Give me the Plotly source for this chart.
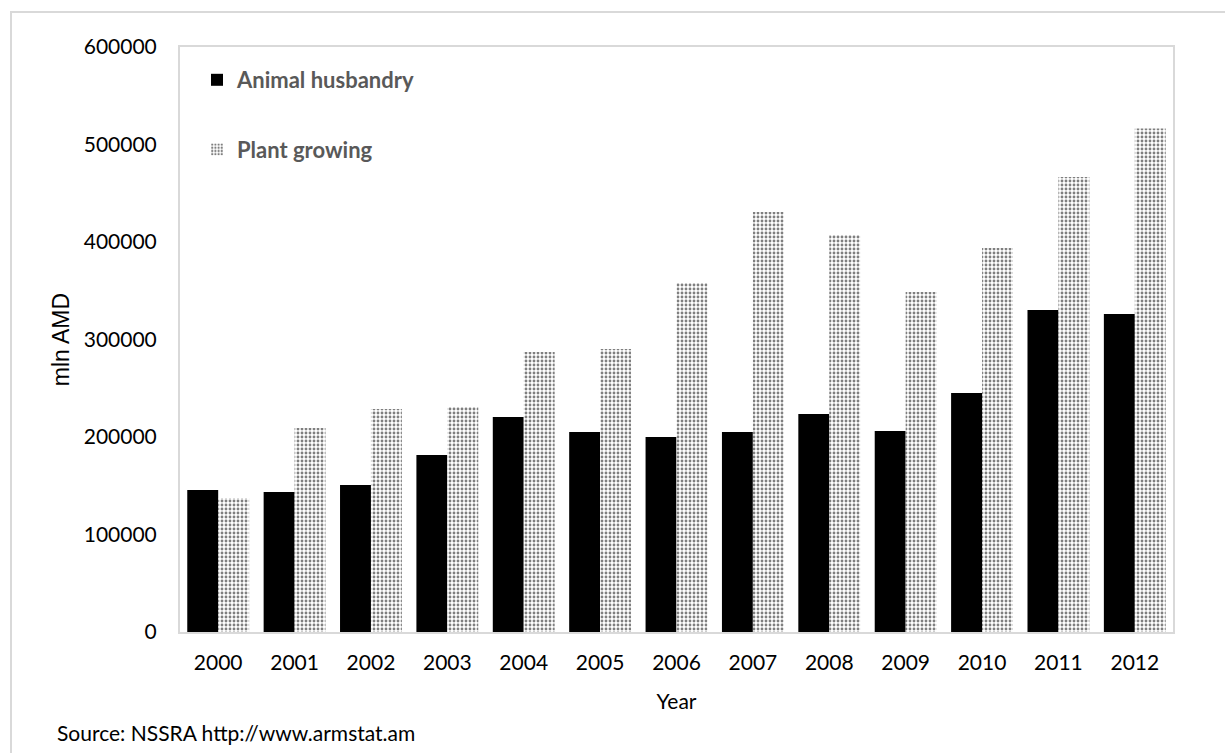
import plotly.graph_objects as go

years = ["2000", "2001", "2002", "2003", "2004", "2005", "2006",
         "2007", "2008", "2009", "2010", "2011", "2012"]
animal_husbandry = [145600, 143600, 150800, 181500, 220500, 205100, 200000,
                    205100, 223600, 206200, 245100, 330300, 326200]
plant_growing = [137400, 209200, 228700, 230800, 287200, 290300, 357900,
                 430800, 407200, 348700, 393800, 466700, 516500]
y_ticks = [0, 100000, 200000, 300000, 400000, 500000, 600000]

W, H = 1225, 753
L, R, T, B = 180, 52, 47, 121
pw, ph = W - L - R, H - T - B

def px_x(x):
    return (x - L) / pw

def px_y(y):
    return (H - B - y) / ph

fig = go.Figure()
fig.add_trace(go.Bar(
    x=years, y=animal_husbandry, name="Animal husbandry",
    marker=dict(color="black", line=dict(width=0)),
    legendgroup="a",
))
fig.add_trace(go.Bar(
    x=years, y=plant_growing, name="Plant growing",
    marker=dict(color="white", line=dict(width=0),
                pattern=dict(shape=".", fgcolor="black", bgcolor="white",
                             size=4, solidity=0.4, fillmode="overlay")),
    legendgroup="b",
))

axis_font = dict(family="Lato, 'Open Sans', sans-serif", size=21, color="black")

fig.update_layout(
    width=W, height=H,
    margin=dict(l=L, r=R, t=T, b=B),
    paper_bgcolor="white", plot_bgcolor="white",
    barmode="group", bargap=0.19, bargroupgap=0,
    showlegend=True,
    legend=dict(
        x=px_x(197), y=px_y(59), xanchor="left", yanchor="top",
        bgcolor="rgba(0,0,0,0)", borderwidth=0,
        font=dict(family="Lato, 'Open Sans', sans-serif", size=22,
                  color="#595959", weight="bold"),
        tracegroupgap=38, traceorder="grouped", itemwidth=30,
    ),
    xaxis=dict(
        showgrid=False, showline=True, mirror=True,
        linecolor="#d9d9d9", linewidth=2,
        ticks="", tickfont=axis_font, ticklabelstandoff=11,
        title=dict(text="Year", font=axis_font, standoff=21),
    ),
    yaxis=dict(
        range=[0, 600000], tickvals=y_ticks,
        ticktext=[str(v) for v in y_ticks],
        showgrid=False, zeroline=False, showline=True, mirror=True,
        linecolor="#d9d9d9", linewidth=2,
        ticks="", tickfont=axis_font, ticklabelstandoff=17,
        title=dict(text="mln AMD",
                   font=dict(family="'Liberation Sans', Arial, sans-serif",
                             size=23, color="black"),
                   standoff=8),
    ),
    shapes=[dict(
        type="rect", xref="paper", yref="paper",
        x0=px_x(11), y0=px_y(H + 20), x1=px_x(W + 20), y1=px_y(12),
        line=dict(color="#d9d9d9", width=2), fillcolor="rgba(0,0,0,0)",
        layer="below",
    )],
    annotations=[dict(
        text="Source: NSSRA http://www.armstat.am",
        xref="paper", yref="paper", x=px_x(55), y=px_y(732),
        xanchor="left", yanchor="middle", showarrow=False,
        font=dict(family="Lato, 'Open Sans', sans-serif", size=21, color="black"),
    )],
)

fig.write_html("out.html")
